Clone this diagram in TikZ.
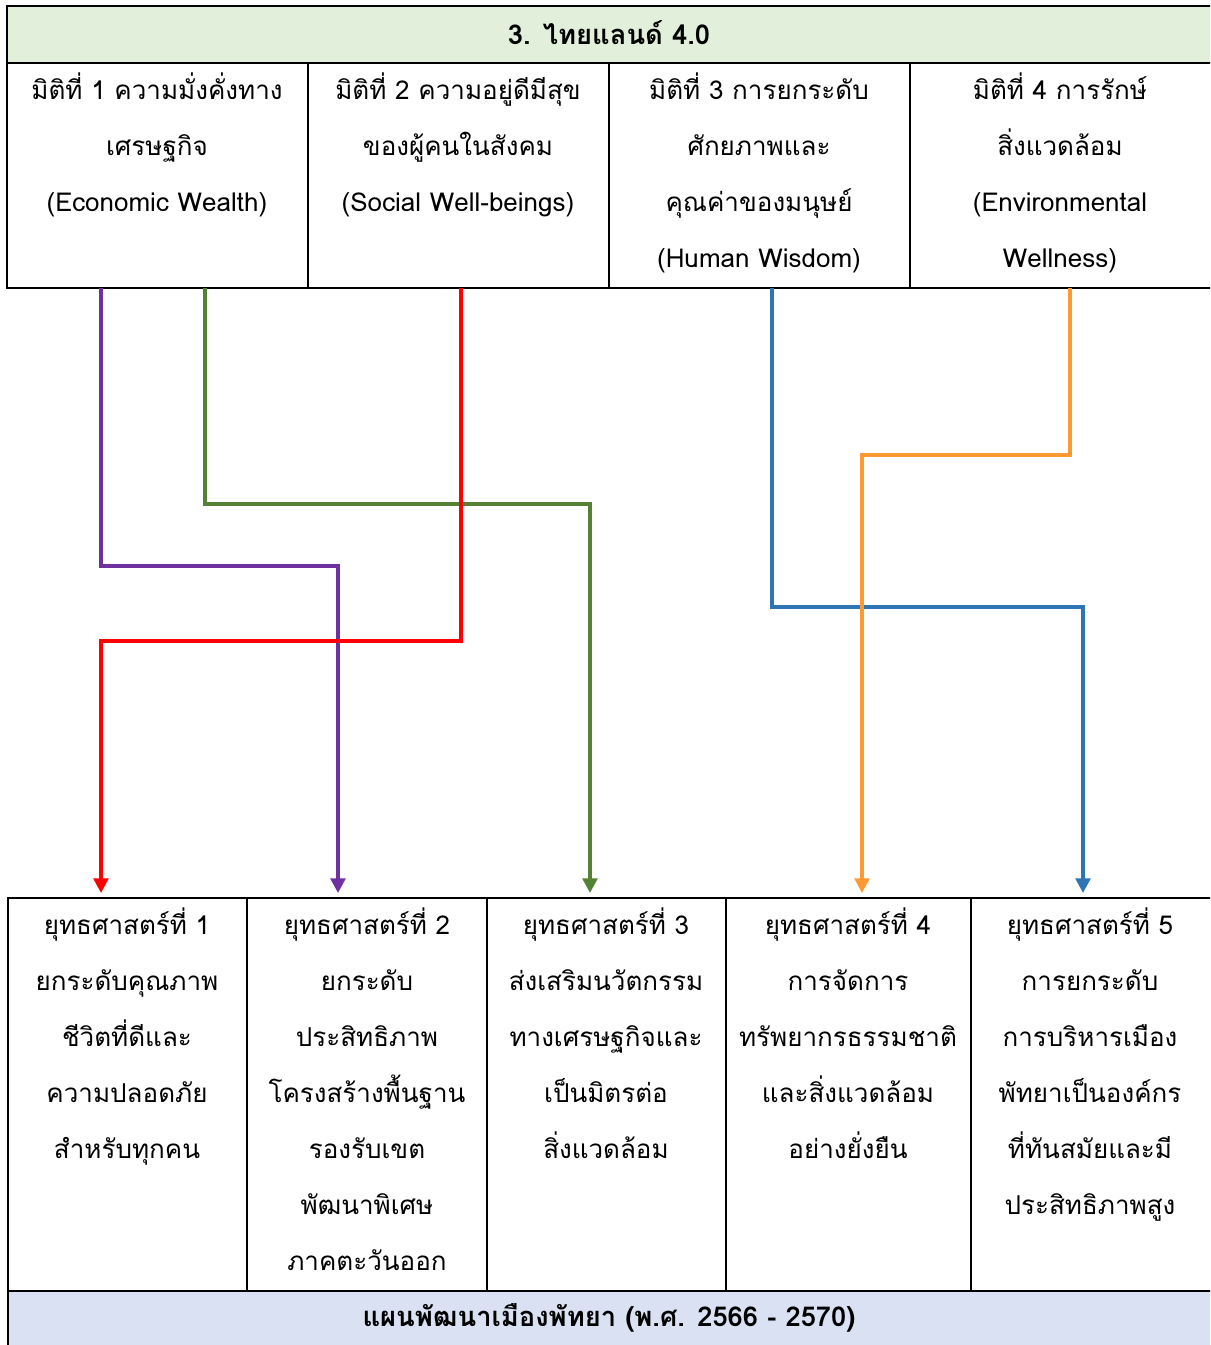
\documentclass[tikz,border=0pt]{standalone}
\usepackage{fontspec}
\newfontfamily\thaifont[Script=Thai]{Loma}
\usetikzlibrary{arrows.meta}
\definecolor{headgreen}{HTML}{E2EFDA}
\definecolor{planblue}{HTML}{D9E1F2}
\definecolor{linepurple}{HTML}{7030A0}
\definecolor{linegreen}{HTML}{548235}
\definecolor{linered}{HTML}{FF0000}
\definecolor{lineblue}{HTML}{2E75B6}
\definecolor{lineorange}{HTML}{FF9933}

\begin{document}
\begin{tikzpicture}[x=0.75pt,y=-0.75pt,
  celltext/.style={anchor=north,align=center,inner sep=0pt,
    font=\thaifont\fontsize{19.5}{42}\selectfont},
  bandtext/.style={inner sep=0pt,font=\thaifont\bfseries\fontsize{20.5}{24}\selectfont},
  link/.style={line width=2.6pt,-{Triangle[width=11pt,length=11pt]}}]
  \def\rulewidth{1.5pt}
  \clip (0,0) rectangle (1210,1345);
  % top table
  \fill[headgreen] (7,6) rectangle (1220,63);
  \draw[line width=\rulewidth] (7,6) rectangle (1220,288);
  \draw[line width=\rulewidth] (7,63) -- (1220,63);
  \foreach \x in {308,609,910} {
      \draw[line width=\rulewidth] (\x,63) -- (\x,288);
  }
  % bottom table
  \fill[planblue] (8,1291) rectangle (1220,1350);
  \draw[line width=\rulewidth] (1220,898) -- (8,898) -- (8,1350);
  \draw[line width=\rulewidth] (8,1291) -- (1220,1291);
  \foreach \x in {247,487,726,971} {
      \draw[line width=\rulewidth] (\x,898) -- (\x,1291);
  }
  \node[bandtext] (head) at (609,33) {3. ไทยแลนด์ 4.0};
  \node[celltext] (d1) at (157,72) {มิติที่ 1 ความมั่งคั่งทาง\\เศรษฐกิจ\\(Economic Wealth)};
  \node[celltext] (d2) at (458,72) {มิติที่ 2 ความอยู่ดีมีสุข\\ของผู้คนในสังคม\\(Social Well-beings)};
  \node[celltext] (d3) at (759,72) {มิติที่ 3 การยกระดับ\\ศักยภาพและ\\คุณค่าของมนุษย์\\(Human Wisdom)};
  \node[celltext] (d4) at (1060,72) {มิติที่ 4 การรักษ์\\สิ่งแวดล้อม\\(Environmental\\Wellness)};
  \node[celltext] (s1) at (127,907) {ยุทธศาสตร์ที่ 1\\ยกระดับคุณภาพ\\ชีวิตที่ดีและ\\ความปลอดภัย\\สำหรับทุกคน};
  \node[celltext] (s2) at (367,907) {ยุทธศาสตร์ที่ 2\\ยกระดับ\\ประสิทธิภาพ\\โครงสร้างพื้นฐาน\\รองรับเขต\\พัฒนาพิเศษ\\ภาคตะวันออก};
  \node[celltext] (s3) at (606,907) {ยุทธศาสตร์ที่ 3\\ส่งเสริมนวัตกรรม\\ทางเศรษฐกิจและ\\เป็นมิตรต่อ\\สิ่งแวดล้อม};
  \node[celltext] (s4) at (848,907) {ยุทธศาสตร์ที่ 4\\การจัดการ\\ทรัพยากรธรรมชาติ\\และสิ่งแวดล้อม\\อย่างยั่งยืน};
  \node[celltext] (s5) at (1090,907) {ยุทธศาสตร์ที่ 5\\การยกระดับ\\การบริหารเมือง\\พัทยาเป็นองค์กร\\ที่ทันสมัยและมี\\ประสิทธิภาพสูง};
  \node[bandtext] (plan) at (609,1318) {แผนพัฒนาเมืองพัทยา (พ.ศ. 2566 - 2570)};
  % connector ends
  \coordinate (d1a) at (101,288);
  \coordinate (d1b) at (205,288);
  \coordinate (d2a) at (461,288);
  \coordinate (d3a) at (772,288);
  \coordinate (d4a) at (1070,288);
  \coordinate (s1in) at (101,893);
  \coordinate (s2in) at (338,893);
  \coordinate (s3in) at (590,893);
  \coordinate (s4in) at (862,893);
  \coordinate (s5in) at (1083,893);
  \foreach \from/\turn/\to/\col in {d1b/504/s3in/linegreen, d1a/566/s2in/linepurple,
      d2a/641/s1in/linered, d3a/607/s5in/lineblue, d4a/455/s4in/lineorange} {
      \draw[link,\col] (\from) -- (\from |- 0,\turn) -| (\to);
  }
\end{tikzpicture}
\end{document}
